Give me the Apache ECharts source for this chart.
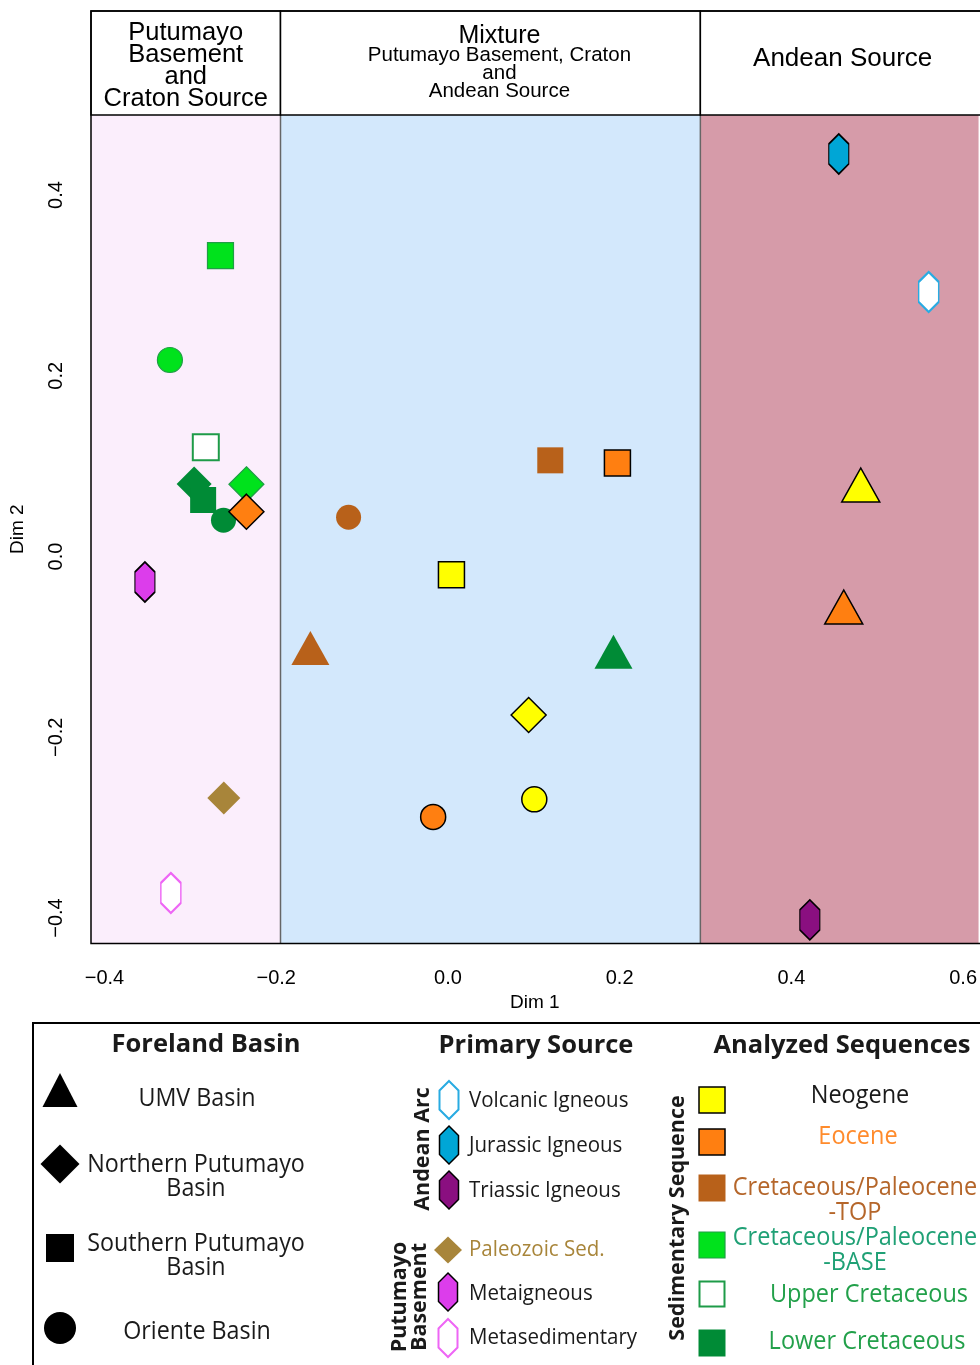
<!DOCTYPE html>
<html><head><meta charset="utf-8">
<script src="https://cdn.jsdelivr.net/npm/echarts@6/dist/echarts.min.js"></script>
<style>html,body{margin:0;padding:0;background:#fff}#c{width:980px;height:1365px}</style>
</head><body><div id="c"></div>
<script>
// ---------- data ----------
const xTicks = [-0.4, -0.2, 0, 0.2, 0.4, 0.6];
const xTickLabels = ['\u22120.4', '\u22120.2', '0.0', '0.2', '0.4', '0.6'];
const yTicks = [-0.4, -0.2, 0, 0.2, 0.4];
const yTickLabels = ['\u22120.4', '\u22120.2', '0.0', '0.2', '0.4'];
const xRange = [-0.4157, 0.618];
const yRange = [-0.4282, 0.4885];
// Dim 1 boundaries of the three source fields
const bandEdges = [-0.4157, -0.195, 0.294, 0.618];
const bandColors = ['#fbeefc', '#d3e8fc', '#d69ba9'];

// sequences: [Dim 1, Dim 2, basin]
const neogene = [[0.0041, -0.0201, 'Southern'], [0.094, -0.1754, 'Northern'], [0.1006, -0.2687, 'Oriente'], [0.4808, 0.0791, 'UMV']];
const eocene = [[-0.2347, 0.0496, 'Northern'], [0.1974, 0.1035, 'Southern'], [-0.0172, -0.2882, 'Oriente'], [0.461, -0.0559, 'UMV']];
const cretPalTop = [[-0.1157, 0.0434, 'Oriente'], [0.1192, 0.1064, 'Southern'], [-0.1602, -0.1012, 'UMV']];
const cretPalBase = [[-0.2649, 0.3328, 'Southern'], [-0.3238, 0.2174, 'Oriente'], [-0.2347, 0.0799, 'Northern']];
const upperCret = [[-0.282, 0.1208, 'Southern']];
const lowerCret = [[-0.2956, 0.0802, 'Northern'], [-0.2851, 0.0625, 'Southern'], [-0.2614, 0.0401, 'Oriente'], [0.1928, -0.1053, 'UMV']];
// primary sources: [Dim 1, Dim 2]
const volcanic = [[0.5599, 0.2927]];
const jurassic = [[0.4552, 0.4454]];
const triassic = [[0.4215, -0.4021]];
const paleozoic = [[-0.261, -0.2672]];
const metaigneous = [[-0.3529, -0.0282]];
const metasedimentary = [[-0.3227, -0.3723]];

const basinLabels = ['UMV Basin', 'Northern Putumayo\nBasin', 'Southern Putumayo\nBasin', 'Oriente Basin'];
const andeanLabels = ['Volcanic Igneous', 'Jurassic Igneous', 'Triassic Igneous'];
const basementLabels = ['Paleozoic Sed.', 'Metaigneous', 'Metasedimentary'];
const seqLabels = ['Neogene', 'Eocene', 'Cretaceous/Paleocene\n-TOP', 'Cretaceous/Paleocene\n-BASE', 'Upper Cretaceous', 'Lower Cretaceous'];

// ---------- styles ----------
const HEX = 'path://M10,0L20,10L20,30L10,40L0,30L0,10Z';
const basinSymbol = { UMV: 'triangle', Northern: 'diamond', Southern: 'rect', Oriente: 'circle' };
const basinSize = { UMV: [38, 34], Northern: 35, Southern: 26, Oriente: 25 };
const C = {
  yellow: '#ffff00', orange: '#ff7f11', brown: '#b8611a', lime: '#00e21c', limeEdge: '#1f9e45',
  dark: '#008b36', ucEdge: '#1e9b48', jur: '#00a6d6', volc: '#29abe2', tri: '#8a0f80',
  meta: '#dc3deb', metas: '#ee66f5', paleo: '#a8853a'
};
const AX = '"Liberation Sans", Arial, sans-serif';
const LF = '"Open Sans", sans-serif';

function seq(name, arr, itemStyle, z) {
  return {
    type: 'scatter', name, z, itemStyle: Object.assign({ opacity: 1 }, itemStyle),
    data: arr.map(d => ({ value: [d[0], d[1]], symbol: basinSymbol[d[2]], symbolSize: basinSize[d[2]] }))
  };
}
function src(name, arr, symbol, size, itemStyle, z) {
  return { type: 'scatter', name, z, symbol, symbolSize: size, itemStyle: Object.assign({ opacity: 1 }, itemStyle), data: arr.map(d => [d[0], d[1]]) };
}
const pick = (ticks, labels) => v => { const i = ticks.findIndex(t => Math.abs(t - v) < 1e-9); return i < 0 ? '' : labels[i]; };

const chart = echarts.init(document.getElementById('c'));
chart.setOption({
  backgroundColor: '#fff',
  animation: false,
  grid: { left: 91, right: 0, top: 115, bottom: 421.5, show: false },
  xAxis: {
    type: 'value', min: xRange[0], max: xRange[1], splitLine: { show: false },
    axisLine: { show: false },
    axisTick: { show: true, length: 14, customValues: xTicks, lineStyle: { color: '#000', width: 1.5 } },
    axisLabel: { customValues: xTicks, formatter: pick(xTicks, xTickLabels), margin: 25, fontSize: 20, fontFamily: AX, color: '#000' },
    name: 'Dim 1', nameLocation: 'middle', nameGap: 48, nameTextStyle: { fontSize: 19, fontFamily: AX, color: '#000' }
  },
  yAxis: {
    type: 'value', min: yRange[0], max: yRange[1], splitLine: { show: false },
    axisLine: { show: false },
    axisTick: { show: true, length: 13, customValues: yTicks, lineStyle: { color: '#000', width: 1.5 } },
    axisLabel: { customValues: yTicks, formatter: pick(yTicks, yTickLabels), rotate: 90, margin: 25, fontSize: 20, fontFamily: AX, color: '#000' },
    name: 'Dim 2', nameLocation: 'middle', nameGap: 64, nameTextStyle: { fontSize: 19, fontFamily: AX, color: '#000' }
  },
  series: [
    {
      type: 'scatter', name: 'fields', z: 1, data: [], silent: true,
      markArea: {
        silent: true,
        data: bandColors.map((c, i) => [
          { xAxis: bandEdges[i], itemStyle: { color: c, opacity: 1, borderWidth: 0 } },
          { xAxis: bandEdges[i + 1] }
        ])
      }
    },
    seq('Cretaceous/Paleocene-BASE', cretPalBase, { color: C.lime, borderColor: C.limeEdge, borderWidth: 1.2 }, 3),
    seq('Upper Cretaceous', upperCret, { color: '#fff', borderColor: C.ucEdge, borderWidth: 2 }, 3),
    seq('Lower Cretaceous', lowerCret, { color: C.dark }, 3),
    seq('Cretaceous/Paleocene-TOP', cretPalTop, { color: C.brown }, 3),
    seq('Eocene', eocene, { color: C.orange, borderColor: '#000', borderWidth: 1.5 }, 4),
    seq('Neogene', neogene, { color: C.yellow, borderColor: '#000', borderWidth: 1.5 }, 4),
    src('Volcanic Igneous', volcanic, HEX, [20, 40], { color: '#fff', borderColor: C.volc, borderWidth: 2 }, 4),
    src('Jurassic Igneous', jurassic, HEX, [20, 40], { color: C.jur, borderColor: '#000', borderWidth: 1.5 }, 4),
    src('Triassic Igneous', triassic, HEX, [20, 40], { color: C.tri, borderColor: '#000', borderWidth: 1.5 }, 4),
    src('Paleozoic Sed.', paleozoic, 'diamond', 33, { color: C.paleo }, 4),
    src('Metaigneous', metaigneous, HEX, [20, 40], { color: C.meta, borderColor: '#000', borderWidth: 1.5 }, 4),
    src('Metasedimentary', metasedimentary, HEX, [20, 40], { color: '#fff', borderColor: C.metas, borderWidth: 2 }, 4)
  ]
});

// ---------- frame, headers and legend panel ----------
const e = bandEdges.map(v => chart.convertToPixel({ xAxisIndex: 0 }, v));
e[3] += 8; // the frame continues past the right edge of the picture
const yTop = chart.convertToPixel({ yAxisIndex: 0 }, yRange[1]);
const yBot = chart.convertToPixel({ yAxisIndex: 0 }, yRange[0]);
const headTop = 11;
const G = [];
function T(x, y, text, o) {
  o = o || {};
  const font = `${o.weight || 'normal'} ${o.size || 22}px ${o.family || LF}`;
  return {
    type: 'text', x, y, rotation: o.rot || 0, scaleY: o.sy == null ? 1.08 : o.sy, z: 300, silent: true,
    style: { text, fill: o.color || '#1a1a1a', font, align: o.align || 'center', textAlign: o.align || 'center',
      verticalAlign: 'middle', textVerticalAlign: 'middle', lineHeight: o.lh || 24 }
  };
}
function poly(pts, fill, stroke, lw) {
  return { type: 'polygon', z: 300, silent: true, shape: { points: pts }, style: { fill, stroke: stroke || null, lineWidth: lw || 0 } };
}
const tri = (cx, cy, w, h, f) => poly([[cx - w / 2, cy + h / 2], [cx, cy - h / 2], [cx + w / 2, cy + h / 2]], f);
const dia = (cx, cy, w, h, f) => poly([[cx, cy - h / 2], [cx + w / 2, cy], [cx, cy + h / 2], [cx - w / 2, cy]], f);
const hex = (cx, cy, w, h, f, s, lw) => poly([[cx, cy - h / 2], [cx + w / 2, cy - h / 4], [cx + w / 2, cy + h / 4], [cx, cy + h / 2], [cx - w / 2, cy + h / 4], [cx - w / 2, cy - h / 4]], f, s, lw);
const sq = (cx, cy, s, f, st, lw) => ({ type: 'rect', z: 300, silent: true, shape: { x: cx - s / 2, y: cy - s / 2, width: s, height: s }, style: { fill: f, stroke: st || null, lineWidth: lw || 0 } });

// field boundaries inside the plot (grey)
for (let i = 1; i < 3; i++) {
  G.push({ type: 'line', z: 1, silent: true, shape: { x1: e[i], y1: yTop, x2: e[i], y2: yBot }, style: { stroke: '#666', lineWidth: 1.5 } });
}
// header cells
for (let i = 0; i < 3; i++) {
  G.push({ type: 'rect', z: 250, silent: true, shape: { x: e[i], y: headTop, width: e[i + 1] - e[i], height: yTop - headTop },
    style: { fill: '#fff', stroke: '#000', lineWidth: 1.5 } });
}
// plot frame
G.push({ type: 'rect', z: 260, silent: true, shape: { x: e[0], y: headTop, width: e[3] - e[0], height: yBot - headTop },
  style: { fill: null, stroke: '#000', lineWidth: 1.5 } });

const c0 = (e[0] + e[1]) / 2, c1 = (e[1] + e[2]) / 2 + 9, c2 = (e[2] + 985) / 2;
G.push(T(c0, 66, 'Putumayo\nBasement\nand\nCraton Source', { family: AX, size: 25.5, lh: 22, sy: 1, color: '#000' }));
G.push(T(c1, 36, 'Mixture', { family: AX, size: 25, sy: 1, color: '#000' }));
G.push(T(c1, 73, 'Putumayo Basement, Craton\nand\nAndean Source', { family: AX, size: 20.5, lh: 18, sy: 1, color: '#000' }));
G.push(T(c2, 59, 'Andean Source', { family: AX, size: 26, sy: 1, color: '#000' }));

// legend panel
G.push({ type: 'rect', z: 250, silent: true, shape: { x: 33, y: 1023, width: 1000, height: 400 }, style: { fill: '#fff', stroke: '#000', lineWidth: 2 } });
G.push(T(206, 1045, 'Foreland Basin', { weight: 'bold', size: 25.5, sy: 1 }));
G.push(T(536, 1046, 'Primary Source', { weight: 'bold', size: 25.5, sy: 1 }));
G.push(T(842, 1046, 'Analyzed Sequences', { weight: 'bold', size: 25.5, sy: 1 }));

// foreland basin column
G.push(tri(60, 1090, 35, 34, '#000'));
G.push(dia(60, 1164, 39, 39, '#000'));
G.push(sq(60, 1248, 28, '#000'));
G.push({ type: 'circle', z: 300, silent: true, shape: { cx: 60, cy: 1328, r: 16 }, style: { fill: '#000' } });
G.push(T(197, 1099, basinLabels[0], { size: 23.3 }));
G.push(T(196, 1177, basinLabels[1], { size: 23.3, lh: 22 }));
G.push(T(196, 1256, basinLabels[2], { size: 23.3, lh: 22 }));
G.push(T(197, 1332, basinLabels[3], { size: 23.3 }));

// primary source column
G.push(T(423, 1149, 'Andean Arc', { weight: 'bold', size: 21.5, rot: Math.PI / 2, sy: 1 }));
G.push(T(410, 1297, 'Putumayo\nBasement', { weight: 'bold', size: 21.5, rot: Math.PI / 2, lh: 20, sy: 1 }));
G.push(hex(449, 1100, 19, 38, '#fff', C.volc, 2));
G.push(hex(449, 1145, 19, 38, C.jur, '#000', 1.5));
G.push(hex(449, 1190, 19, 38, C.tri, '#000', 1.5));
G.push(dia(448, 1250, 28, 27, C.paleo));
G.push(hex(448, 1292, 19, 38, C.meta, '#000', 1.5));
G.push(hex(448, 1338, 19, 38, '#fff', C.metas, 2));
G.push(T(469, 1101, andeanLabels[0], { align: 'left', size: 20.5 }));
G.push(T(469, 1146, andeanLabels[1], { align: 'left', size: 20.5 }));
G.push(T(469, 1191, andeanLabels[2], { align: 'left', size: 20.5 }));
G.push(T(469, 1250, basementLabels[0], { align: 'left', size: 20.5, color: C.paleo }));
G.push(T(469, 1294, basementLabels[1], { align: 'left', size: 20.5 }));
G.push(T(469, 1338, basementLabels[2], { align: 'left', size: 20.5 }));

// analyzed sequences column
G.push(T(678, 1218, 'Sedimentary Sequence', { weight: 'bold', size: 21.5, rot: Math.PI / 2, sy: 1 }));
G.push(sq(712, 1100, 26, C.yellow, '#000', 1.5));
G.push(sq(712, 1142, 26, C.orange, '#000', 1.5));
G.push(sq(712, 1188, 27, C.brown));
G.push(sq(712, 1245, 26, C.lime, C.limeEdge, 1.2));
G.push(sq(712, 1294, 25, '#fff', C.ucEdge, 2));
G.push(sq(712, 1343, 27, C.dark));
G.push(T(860, 1096, seqLabels[0], { size: 23.5 }));
G.push(T(858, 1137, seqLabels[1], { size: 23.5, color: '#ff8b2c' }));
G.push(T(855, 1200, seqLabels[2], { size: 23.5, color: '#b5662a', lh: 23 }));
G.push(T(855, 1250, seqLabels[3], { size: 23.5, color: '#1fa075', lh: 23 }));
G.push(T(869, 1295, seqLabels[4], { size: 23.5, color: '#22a04a' }));
G.push(T(867, 1342, seqLabels[5], { size: 23.5, color: '#22a04a' }));

chart.setOption({ graphic: { elements: G } });
</script></body></html>
